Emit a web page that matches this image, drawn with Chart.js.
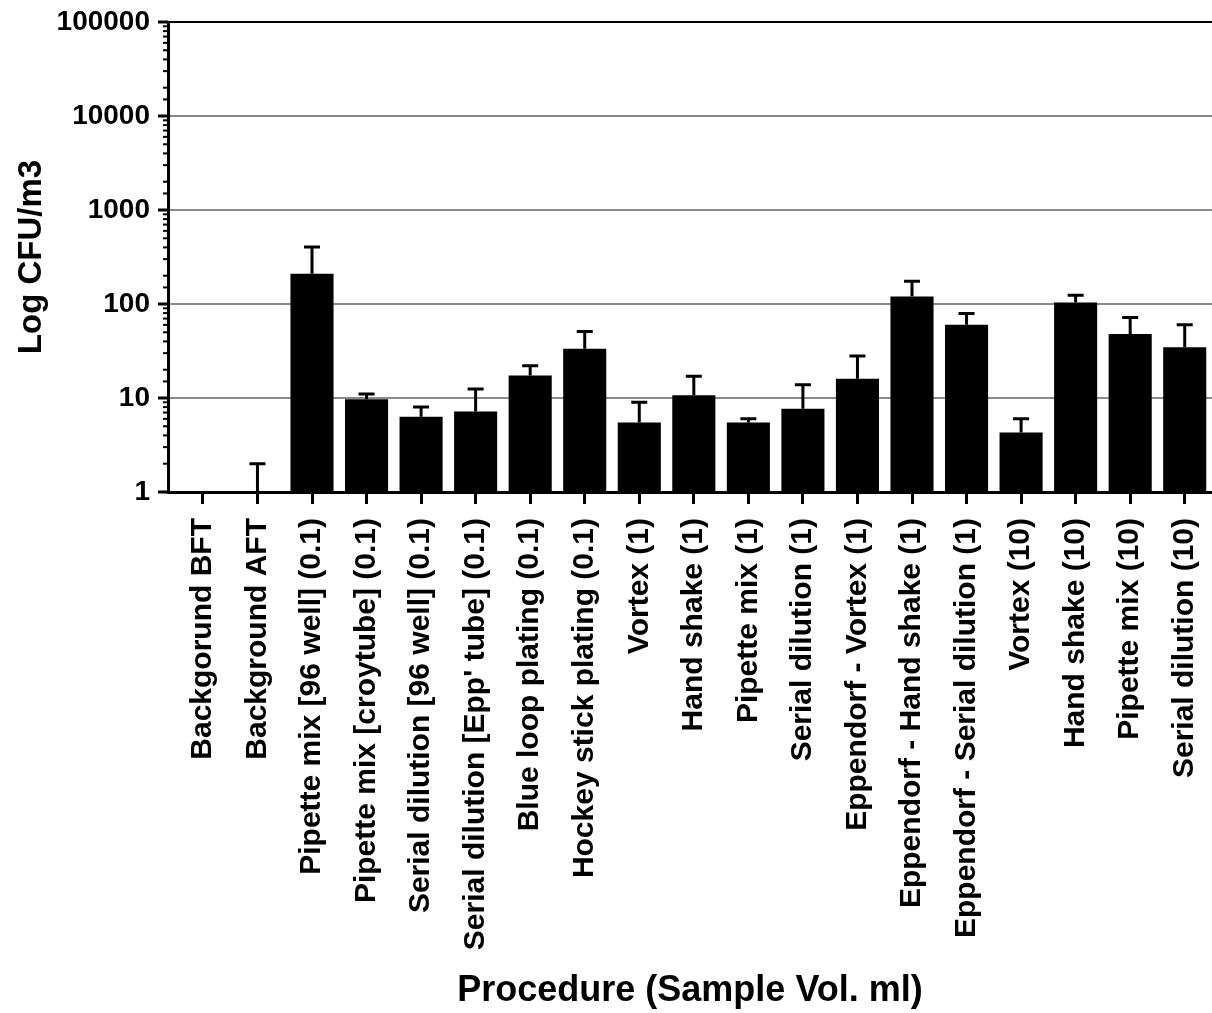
<!DOCTYPE html>
<html>
<head>
<meta charset="utf-8">
<script src="https://cdn.jsdelivr.net/npm/chart.js@4.4.0/dist/chart.umd.min.js"></script>
<style>
  body { margin: 0; background: #fff; }
  #wrap { width: 1212px; height: 1013px; }
</style>
</head>
<body>
<div id="wrap"><canvas id="myChart"></canvas></div>
<script>
const procedures = [
  'Backgorund BFT', 'Background AFT',
  'Pipette mix [96 well] (0.1)', 'Pipette mix [croytube] (0.1)',
  'Serial dilution [96 well] (0.1)', "Serial dilution [Epp' tube] (0.1)",
  'Blue loop plating (0.1)', 'Hockey stick plating (0.1)',
  'Vortex (1)', 'Hand shake (1)', 'Pipette mix (1)', 'Serial dilution (1)',
  'Eppendorf - Vortex (1)', 'Eppendorf - Hand shake (1)', 'Eppendorf - Serial dilution (1)',
  'Vortex (10)', 'Hand shake (10)', 'Pipette mix (10)', 'Serial dilution (10)'
];
const meanCfu = [null, 1, 210, 9.7, 6.3, 7.2, 17.3, 33.5, 5.5, 10.7, 5.5, 7.7, 16, 120, 60, 4.3, 104, 48, 34.6];
const sdCfu   = [null, 1, 195, 1.3, 1.7, 5.3, 4.7, 17.5, 3.5, 6.3, 0.5, 6.1, 12, 55, 19, 1.7, 20, 24, 25.4];
const yTicks = [1, 10, 100, 1000, 10000, 100000];

const FONT = "'Liberation Sans', Arial, sans-serif";

function isPow10(v){
  const l = Math.log10(v);
  return Math.abs(l - Math.round(l)) < 1e-9;
}

const barData = [];
for(let i = 0; i < procedures.length; i++){
  barData.push({x: i, y: meanCfu[i]});
}

// up-only error bars with caps
const errorBars = {
  id: 'errorBars',
  afterDatasetsDraw(chart){
    const meta = chart.getDatasetMeta(0);
    const ys = chart.scales.y;
    const c = chart.ctx;
    c.save();
    c.strokeStyle = '#000';
    c.lineWidth = 3;
    for(let i = 0; i < meta.data.length; i++){
      if(meanCfu[i] === null || sdCfu[i] === null) continue;
      const bar = meta.data[i];
      const top = ys.getPixelForValue(meanCfu[i] + sdCfu[i]);
      const base = ys.getPixelForValue(meanCfu[i]);
      c.beginPath();
      c.moveTo(bar.x, base);
      c.lineTo(bar.x, top);
      c.moveTo(bar.x - 8, top);
      c.lineTo(bar.x + 8, top);
      c.stroke();
    }
    c.restore();
  }
};

// y axis tick marks: long at decades, short for minor
const logTicks = {
  id: 'logTicks',
  afterDraw(chart){
    const ys = chart.scales.y;
    const c = chart.ctx;
    const x0 = chart.chartArea.left;
    c.save();
    c.strokeStyle = '#000';
    ys.ticks.forEach((t) => {
      const y = ys.getPixelForValue(t.value);
      const major = isPow10(t.value);
      c.lineWidth = major ? 3 : 2;
      c.beginPath();
      c.moveTo(x0 - (major ? 10 : 5), y);
      c.lineTo(x0, y);
      c.stroke();
    });
    c.restore();
  }
};

const ctx = document.getElementById('myChart').getContext('2d');
const myChart = new Chart(ctx, {
  type: 'bar',
  data: {
    datasets: [{
      data: barData,
      backgroundColor: '#000',
      borderWidth: 0,
      barPercentage: 0.79,
      categoryPercentage: 1
    }]
  },
  options: {
    responsive: true,
    maintainAspectRatio: false,
    animation: false,
    layout: { padding: { top: 22, left: 0, right: 0, bottom: 0 } },
    plugins: {
      legend: { display: false },
      tooltip: { enabled: false }
    },
    scales: {
      x: {
        type: 'linear',
        offset: false,
        min: -0.64,
        max: 18.5,
        afterFit(scale){
          scale.height = 521;
          scale.paddingLeft = 0;
          scale.paddingRight = 0;
        },
        border: { color: '#000', width: 3 },
        grid: {
          offset: false,
          drawOnChartArea: false,
          tickLength: 12,
          tickColor: '#000',
          tickWidth: 3
        },
        ticks: {
          stepSize: 1,
          includeBounds: false,
          autoSkip: false,
          maxTicksLimit: 40,
          minRotation: 90,
          maxRotation: 90,
          padding: 14,
          color: '#000',
          font: { family: FONT, size: 30, weight: 'bold' },
          callback: (v) => Number.isInteger(v) && procedures[v] !== undefined ? procedures[v] : ''
        },
        title: {
          display: true,
          text: 'Procedure (Sample Vol. ml)',
          color: '#000',
          font: { family: FONT, size: 36, weight: 'bold' },
          padding: { top: 0, bottom: 0 }
        }
      },
      y: {
        type: 'logarithmic',
        min: yTicks[0],
        max: yTicks[yTicks.length - 1],
        afterFit(scale){
          scale.width = 168;
          scale.paddingTop = 0;
          scale.paddingBottom = 0;
        },
        border: { color: '#000', width: 3 },
        grid: {
          drawTicks: false,
          lineWidth: 2,
          color: (c) => {
            if(!c.tick || !isPow10(c.tick.value)) return 'rgba(0,0,0,0)';
            return c.tick.value === yTicks[yTicks.length - 1] ? '#000' : '#8a8a8a';
          }
        },
        ticks: {
          autoSkip: false,
          padding: 18,
          color: '#000',
          font: { family: FONT, size: 28, weight: 'bold' },
          callback: (v) => yTicks.includes(v) ? String(v) : ''
        },
        title: {
          display: true,
          text: 'Log CFU/m3',
          color: '#000',
          font: { family: FONT, size: 33, weight: 'bold' },
          padding: { top: 12, bottom: 0 }
        }
      }
    }
  },
  plugins: [errorBars, logTicks]
});
</script>
</body>
</html>
